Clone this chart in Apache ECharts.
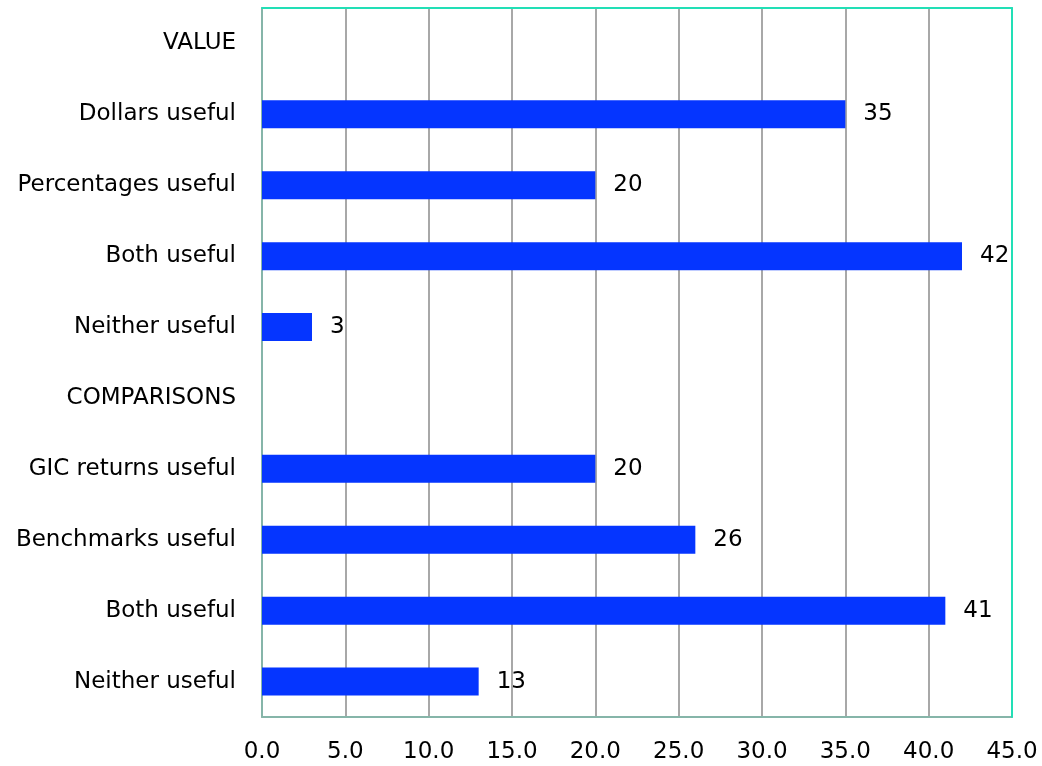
<!DOCTYPE html>
<html>
<head>
<meta charset="utf-8">
<script src="https://cdn.jsdelivr.net/npm/echarts@6/dist/echarts.min.js"></script>
<style>
  html, body { margin: 0; padding: 0; background: #fff; }
  #chart { width: 1042px; height: 766px; }
</style>
</head>
<body>
<div id="chart"></div>
<script>
// Survey responses: usefulness of value and comparison information
const categories = [
  'VALUE',
  'Dollars useful',
  'Percentages useful',
  'Both useful',
  'Neither useful',
  'COMPARISONS',
  'GIC returns useful',
  'Benchmarks useful',
  'Both useful',
  'Neither useful'
];
// '-' marks the section heading rows, which carry no bar
const responses = ['-', 35, 20, 42, 3, '-', 20, 26, 41, 13];
const axisMin = 0;
const axisMax = 45;
const axisStep = 5;

const FONT = 'DejaVu Sans, sans-serif';
const FONT_SIZE = 23;
const FRAME_BRIGHT = '#22dfb6';
const FRAME_MUTED = '#86b5a9';

const chart = echarts.init(document.getElementById('chart'), null, { renderer: 'canvas' });
chart.setOption({
  animation: false,
  backgroundColor: '#ffffff',
  grid: {
    left: 262, right: 30, top: 8, bottom: 49,
    show: false
  },
  xAxis: [{
    type: 'value',
    min: axisMin,
    max: axisMax,
    interval: axisStep,
    axisLine: { show: true, onZero: false, lineStyle: { color: FRAME_MUTED, width: 2 } },
    axisTick: { show: false },
    splitLine: { show: true, lineStyle: { color: '#a8a8a8', width: 2 } },
    axisLabel: {
      color: '#000', fontFamily: FONT, fontSize: FONT_SIZE, margin: 24,
      formatter: v => v.toFixed(1)
    }
  }, {
    // top edge of the frame
    type: 'value',
    position: 'top',
    min: axisMin,
    max: axisMax,
    z: 5,
    axisLine: { show: true, onZero: false, lineStyle: { color: FRAME_BRIGHT, width: 2 } },
    axisTick: { show: false },
    axisLabel: { show: false },
    splitLine: { show: false }
  }],
  yAxis: [{
    type: 'category',
    inverse: true,
    data: categories,
    axisLine: { show: true, onZero: false, lineStyle: { color: FRAME_MUTED, width: 2 } },
    axisTick: { show: false },
    splitLine: { show: false },
    axisLabel: {
      color: '#000', fontFamily: FONT, fontSize: FONT_SIZE, margin: 26,
      interval: 0,
      padding: [5, 0, 0, 0]
    }
  }, {
    // right edge of the frame
    type: 'category',
    position: 'right',
    inverse: true,
    data: categories,
    z: 5,
    axisLine: { show: true, onZero: false, lineStyle: { color: FRAME_BRIGHT, width: 2 } },
    axisTick: { show: false },
    axisLabel: { show: false },
    splitLine: { show: false }
  }],
  series: [{
    type: 'bar',
    xAxisIndex: 0,
    yAxisIndex: 0,
    data: responses,
    barWidth: 28,
    itemStyle: { color: '#0535ff' },
    label: {
      show: true,
      position: 'right',
      distance: 18,
      color: '#000',
      fontFamily: FONT,
      fontSize: FONT_SIZE,
      padding: [3, 0, 0, 0]
    }
  }]
});
</script>
</body>
</html>
